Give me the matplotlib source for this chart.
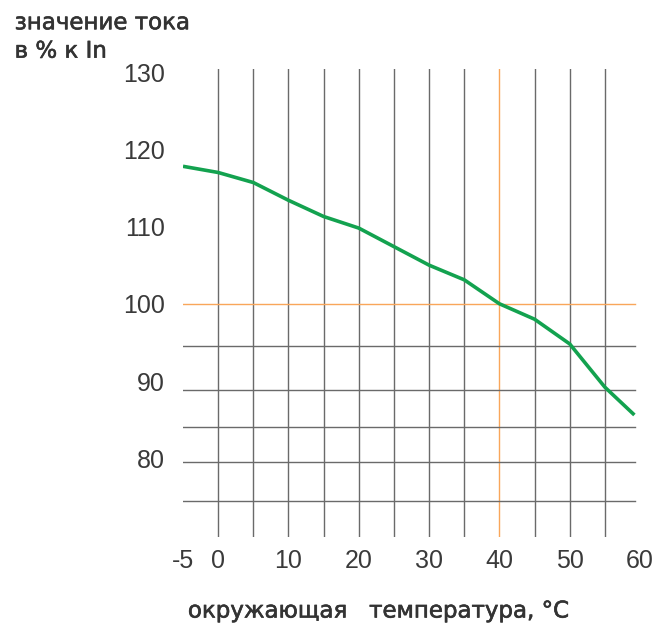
import matplotlib.pyplot as plt
import matplotlib.patheffects as pe

plt.rcParams['axes.unicode_minus'] = False

# температура окружающей среды, °C и ток в % к In
temp = [-5, 0, 5, 10, 15, 20, 25, 30, 35, 40, 45, 50, 55, 59.2]
current = [117.8, 117.0, 115.7, 113.4, 111.3, 109.8, 107.4, 105.0, 103.1, 100.0, 98.0, 94.8, 89.2, 85.6]

x_ticks = [-5, 0, 10, 20, 30, 40, 50, 60]
y_ticks = [80, 90, 100, 110, 120, 130]
v_lines = [0, 5, 10, 15, 20, 25, 30, 35, 45, 50, 55]
h_lines = [94.5, 88.8, 84.0, 79.5, 74.5]

grid_c = '#6a6a6a'
orange = '#f9a65a'
green = '#13a24f'
text_c = '#3a3a3a'
label_c = '#333333'

fig = plt.figure(figsize=(6.64, 6.25), dpi=100)
ax = fig.add_axes([0.2756, 0.1408, 0.6883, 0.7488])
ax.set_xlim(-5, 60)
ax.set_ylim(69.8, 130.4)

for x in v_lines:
    ax.axvline(x, color=grid_c, lw=1.0, zorder=1)
ax.axvline(40, color=orange, lw=1.0, zorder=1)
for y in h_lines:
    ax.plot([-5, 59.3], [y, y], color=grid_c, lw=1.0, zorder=1)
ax.plot([-5, 59.3], [100, 100], color=orange, lw=1.0, zorder=2)

ax.plot(temp, current, color=green, lw=2.6, zorder=3, solid_capstyle='butt',
        solid_joinstyle='round')

for s in ax.spines.values():
    s.set_visible(False)
ax.set_xticks(x_ticks)
ax.set_yticks(y_ticks)
ax.tick_params(length=0, labelsize=18, labelcolor=text_c)
ax.tick_params(axis='x', pad=9)
ax.tick_params(axis='y', pad=13)
for lab in ax.get_xticklabels() + ax.get_yticklabels():
    lab.set_fontfamily('Liberation Sans')

thick = [pe.withStroke(linewidth=0.45, foreground=label_c)]
fig.text(0.022, 0.982, 'значение тока\nв % к In', fontsize=16.5, color=label_c,
         va='top', ha='left', linespacing=1.3, family='DejaVu Sans', path_effects=thick)
fig.text(0.283, 0.004, 'окружающая   температура, °C', fontsize=16.5, color=label_c,
         va='bottom', ha='left', family='DejaVu Sans', path_effects=thick)

fig.savefig('out.png', dpi=100)
